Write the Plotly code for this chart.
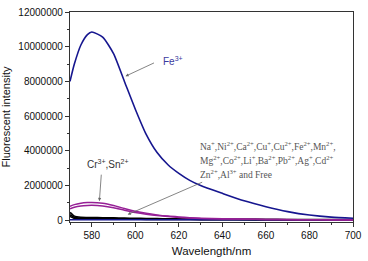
import plotly.graph_objects as go

# ---- data ----
wl = [570, 572, 575, 578, 580, 585, 590, 595, 600, 605, 610, 615, 620, 625,
      630, 640, 650, 660, 670, 680, 690, 700]

fe3 = [8.0e6, 9.0e6, 10.1e6, 10.7e6, 10.85e6, 10.55e6, 9.6e6, 8.0e6, 6.4e6,
       4.95e6, 3.9e6, 3.2e6, 2.7e6, 2.3e6, 2.0e6, 1.55e6, 1.12e6, 0.78e6,
       0.5e6, 0.3e6, 0.18e6, 0.12e6]

cr3 = [0.8e6, 0.9e6, 0.98e6, 1.02e6, 1.03e6, 0.98e6, 0.85e6, 0.68e6, 0.52e6,
       0.4e6, 0.31e6, 0.24e6, 0.19e6, 0.15e6, 0.12e6, 0.09e6, 0.07e6, 0.05e6,
       0.04e6, 0.03e6, 0.025e6, 0.02e6]

sn2 = [0.66e6, 0.75e6, 0.82e6, 0.85e6, 0.86e6, 0.82e6, 0.72e6, 0.58e6, 0.45e6,
       0.35e6, 0.27e6, 0.21e6, 0.16e6, 0.13e6, 0.1e6, 0.075e6, 0.06e6, 0.045e6,
       0.035e6, 0.028e6, 0.022e6, 0.018e6]

others_a = [0.45e6, 0.24e6, 0.17e6, 0.16e6, 0.155e6, 0.145e6, 0.135e6, 0.125e6,
            0.115e6, 0.105e6, 0.095e6, 0.088e6, 0.08e6, 0.074e6, 0.068e6,
            0.06e6, 0.053e6, 0.047e6, 0.042e6, 0.038e6, 0.034e6, 0.03e6]
others_b = [0.32e6, 0.17e6, 0.12e6, 0.11e6, 0.105e6, 0.1e6, 0.095e6, 0.088e6,
            0.082e6, 0.076e6, 0.07e6, 0.065e6, 0.06e6, 0.056e6, 0.052e6,
            0.046e6, 0.041e6, 0.037e6, 0.033e6, 0.03e6, 0.027e6, 0.025e6]
others_c = [0.22e6, 0.11e6, 0.08e6, 0.075e6, 0.072e6, 0.07e6, 0.066e6, 0.062e6,
            0.058e6, 0.054e6, 0.05e6, 0.047e6, 0.044e6, 0.041e6, 0.039e6,
            0.035e6, 0.031e6, 0.028e6, 0.025e6, 0.023e6, 0.021e6, 0.02e6]
free = [0.03e6] * len(wl)

x_ticks = [580, 600, 620, 640, 660, 680, 700]
y_ticks = [0, 2000000, 4000000, 6000000, 8000000, 10000000, 12000000]

ion_lines = [
    "Na<sup>+</sup>,Ni<sup>2+</sup>,Ca<sup>2+</sup>,Cu<sup>+</sup>,Cu<sup>2+</sup>,Fe<sup>2+</sup>,Mn<sup>2+</sup>,",
    "Mg<sup>2+</sup>,Co<sup>2+</sup>,Li<sup>+</sup>,Ba<sup>2+</sup>,Pb<sup>2+</sup>,Ag<sup>+</sup>,Cd<sup>2+</sup>",
    "Zn<sup>2+</sup>,Al<sup>3+</sup> and Free",
]
ion_line_y = [4.3e6, 3.45e6, 2.65e6]

BLUE = "#16168f"
MAG = "#962096"

fig = go.Figure()

def add(y, color, width=1.4):
    fig.add_trace(go.Scatter(x=wl, y=y, mode="lines",
                             line=dict(color=color, width=width, shape="spline", smoothing=0.6),
                             showlegend=False, hoverinfo="skip"))

for s in (others_a, others_b, others_c):
    add(s, "#000000", 1.6)
add(free, BLUE, 1.4)
add(cr3, MAG, 1.5)
add(sn2, MAG, 1.5)
add(fe3, BLUE, 1.6)

font_ticks = dict(family="Liberation Sans, Arial, sans-serif", size=10, color="#111")

fig.update_xaxes(range=[570, 700], tickvals=x_ticks, ticktext=[str(v) for v in x_ticks],
                 ticks="outside", ticklen=4, tickwidth=1, tickcolor="#333",
                 minor=dict(dtick=10, tick0=570, ticks="outside", ticklen=2, tickcolor="#333"),
                 showline=True, mirror=True, linecolor="#333", linewidth=1.3,
                 showgrid=False, zeroline=False, tickfont=font_ticks,
                 title=dict(text="Wavelength/nm", standoff=6,
                            font=dict(family="Liberation Sans, Arial, sans-serif", size=11.5, color="#111")))
fig.update_yaxes(range=[-100000, 12000000], tickvals=y_ticks, ticktext=[str(v) for v in y_ticks],
                 ticks="outside", ticklen=4, tickwidth=1, tickcolor="#333",
                 minor=dict(dtick=1000000, tick0=0, ticks="outside", ticklen=2, tickcolor="#333"),
                 showline=True, mirror=True, linecolor="#333", linewidth=1.3,
                 showgrid=False, zeroline=False, tickfont=font_ticks,
                 title=dict(text="Fluorescent intensity", standoff=5,
                            font=dict(family="Liberation Sans, Arial, sans-serif", size=11, color="#111")))

# arrows
arrow = dict(showarrow=True, arrowhead=2, arrowsize=0.8, arrowwidth=0.8, arrowcolor="#666", text="")
fig.add_annotation(x=595.5, y=8.3e6, ax=30, ay=-14, **arrow)
fig.add_annotation(x=583.5, y=1.1e6, ax=2, ay=-28, **arrow)
fig.add_annotation(x=596.5, y=0.33e6, ax=76, ay=-33, **arrow)

fig.add_annotation(x=612, y=9.15e6, text="Fe<sup>3+</sup>", showarrow=False,
                   xanchor="left", yanchor="middle",
                   font=dict(family="Liberation Sans, Arial, sans-serif", size=10, color="#3a3aa0"))
fig.add_annotation(x=587.5, y=3.25e6, text="Cr<sup>3+</sup>,Sn<sup>2+</sup>", showarrow=False,
                   xanchor="center", yanchor="middle",
                   font=dict(family="Liberation Sans, Arial, sans-serif", size=10, color="#333"))
for txt, yy in zip(ion_lines, ion_line_y):
    fig.add_annotation(x=628.8, y=yy, text=txt, showarrow=False,
                       xanchor="left", yanchor="middle", align="left",
                       font=dict(family="Liberation Serif, Times New Roman, serif", size=9.5, color="#555"))

fig.update_layout(width=368, height=261, margin=dict(l=68, r=11, t=6, b=39),
                  plot_bgcolor="white", paper_bgcolor="white")

fig.write_html("out.html", config={"displayModeBar": False},
               post_script="document.body.style.margin='0';")
